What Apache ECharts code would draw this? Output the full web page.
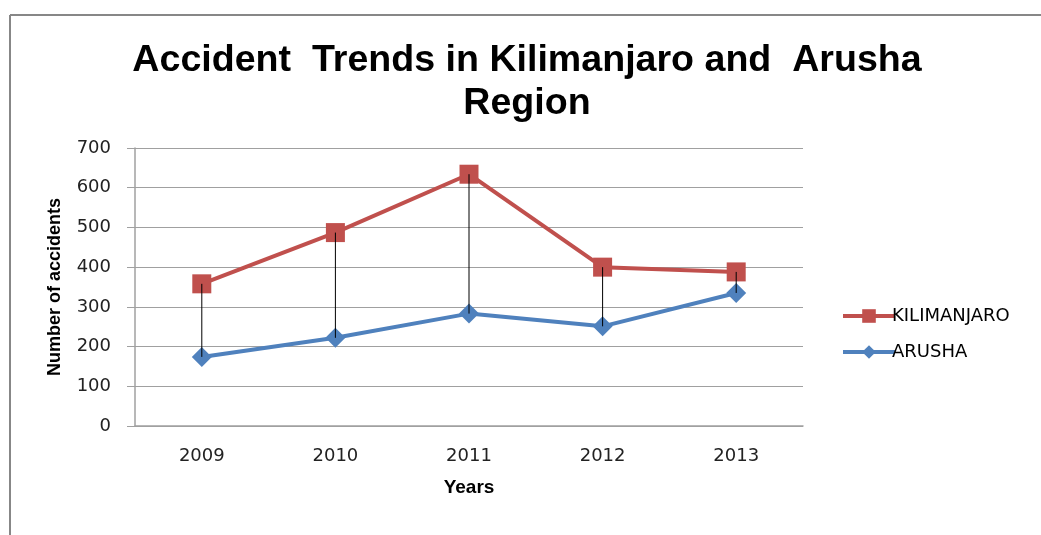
<!DOCTYPE html>
<html>
<head>
<meta charset="utf-8">
<script src="https://cdn.jsdelivr.net/npm/echarts@6/dist/echarts.min.js"></script>
<style>
  html, body { margin: 0; padding: 0; background: #fff; }
  #chart { width: 1041px; height: 535px; }
</style>
</head>
<body>
<div id="chart"></div>
<script>
// chart data
var years = ['2009', '2010', '2011', '2012', '2013']
var kilimanjaro = [358, 487, 634, 400, 388]
var arusha = [174, 222, 283, 251, 335]

var chart = echarts.init(document.getElementById('chart'))
var bold = "'Liberation Sans', Arial, sans-serif"
var plain = "'DejaVu Sans', sans-serif"

var option = {
  backgroundColor: '#fff',
  animation: false,
  graphic: [
    // outer frame of the picture
    { type: 'line', shape: { x1: 10, y1: 15, x2: 1041, y2: 15 }, style: { stroke: '#878787', lineWidth: 2 } },
    { type: 'line', shape: { x1: 10, y1: 15, x2: 10, y2: 535 }, style: { stroke: '#878787', lineWidth: 2 } }
  ],
  title: {
    text: 'Accident  Trends in Kilimanjaro and  Arusha\nRegion',
    left: 522,
    textAlign: 'center',
    top: 34,
    textStyle: { fontFamily: bold, fontSize: 37.6, fontWeight: 'bold', color: '#000', lineHeight: 43 }
  },
  legend: {
    orient: 'vertical',
    left: 836,
    top: 302,
    itemGap: 18,
    itemWidth: 52,
    itemHeight: 17,
    lineStyle: { width: 4 },
    textStyle: { fontFamily: plain, fontSize: 18, color: '#000', padding: [0, 0, 0, -8] },
    data: ['KILIMANJARO', 'ARUSHA']
  },
  grid: { left: 135, right: 238, top: 148, bottom: 109 },
  xAxis: {
    type: 'category',
    data: years,
    name: 'Years',
    nameLocation: 'middle',
    nameGap: 52,
    nameTextStyle: { fontFamily: bold, fontSize: 19, fontWeight: 'bold', color: '#000' },
    axisLine: { lineStyle: { color: '#a0a0a0', width: 1.5 } },
    axisTick: { show: false },
    axisLabel: { fontFamily: plain, fontSize: 18, color: '#222', margin: 21 }
  },
  yAxis: {
    type: 'value',
    min: 0,
    max: 700,
    interval: 100,
    name: 'Number of accidents',
    nameLocation: 'middle',
    nameGap: 71,
    nameTextStyle: { fontFamily: bold, fontSize: 18, fontWeight: 'bold', color: '#000' },
    axisLine: { show: true, lineStyle: { color: '#a0a0a0', width: 1.5 } },
    axisTick: { show: true, length: 8, lineStyle: { color: '#a0a0a0' } },
    splitLine: { lineStyle: { color: '#a0a0a0', width: 1.2 } },
    axisLabel: { fontFamily: plain, fontSize: 18, color: '#222', margin: 24 }
  },
  series: [
    {
      name: 'KILIMANJARO',
      type: 'line',
      data: kilimanjaro,
      color: '#c0504d',
      symbol: 'rect',
      symbolSize: 19,
      showAllSymbol: true,
      lineStyle: { width: 4, color: '#c0504d' },
      itemStyle: { color: '#c0504d' },
      z: 2
    },
    {
      name: 'ARUSHA',
      type: 'line',
      data: arusha,
      color: '#4f81bd',
      symbol: 'diamond',
      symbolSize: 20,
      showAllSymbol: true,
      lineStyle: { width: 4, color: '#4f81bd' },
      itemStyle: { color: '#4f81bd' },
      z: 2
    },
    {
      // high-low lines between the two series
      type: 'custom',
      silent: true,
      z: 5,
      data: years.map(function (y, i) { return [i, kilimanjaro[i], arusha[i]] }),
      encode: { x: 0, y: [1, 2] },
      renderItem: function (params, api) {
        var top = api.coord([api.value(0), api.value(1)])
        var bot = api.coord([api.value(0), api.value(2)])
        return {
          type: 'line',
          shape: { x1: top[0], y1: top[1], x2: bot[0], y2: bot[1] },
          style: { stroke: '#000', lineWidth: 1 }
        }
      }
    }
  ]
}

chart.setOption(option)
window.addEventListener('resize', function () {
  chart.resize()
}, false)
</script>
</body>
</html>
